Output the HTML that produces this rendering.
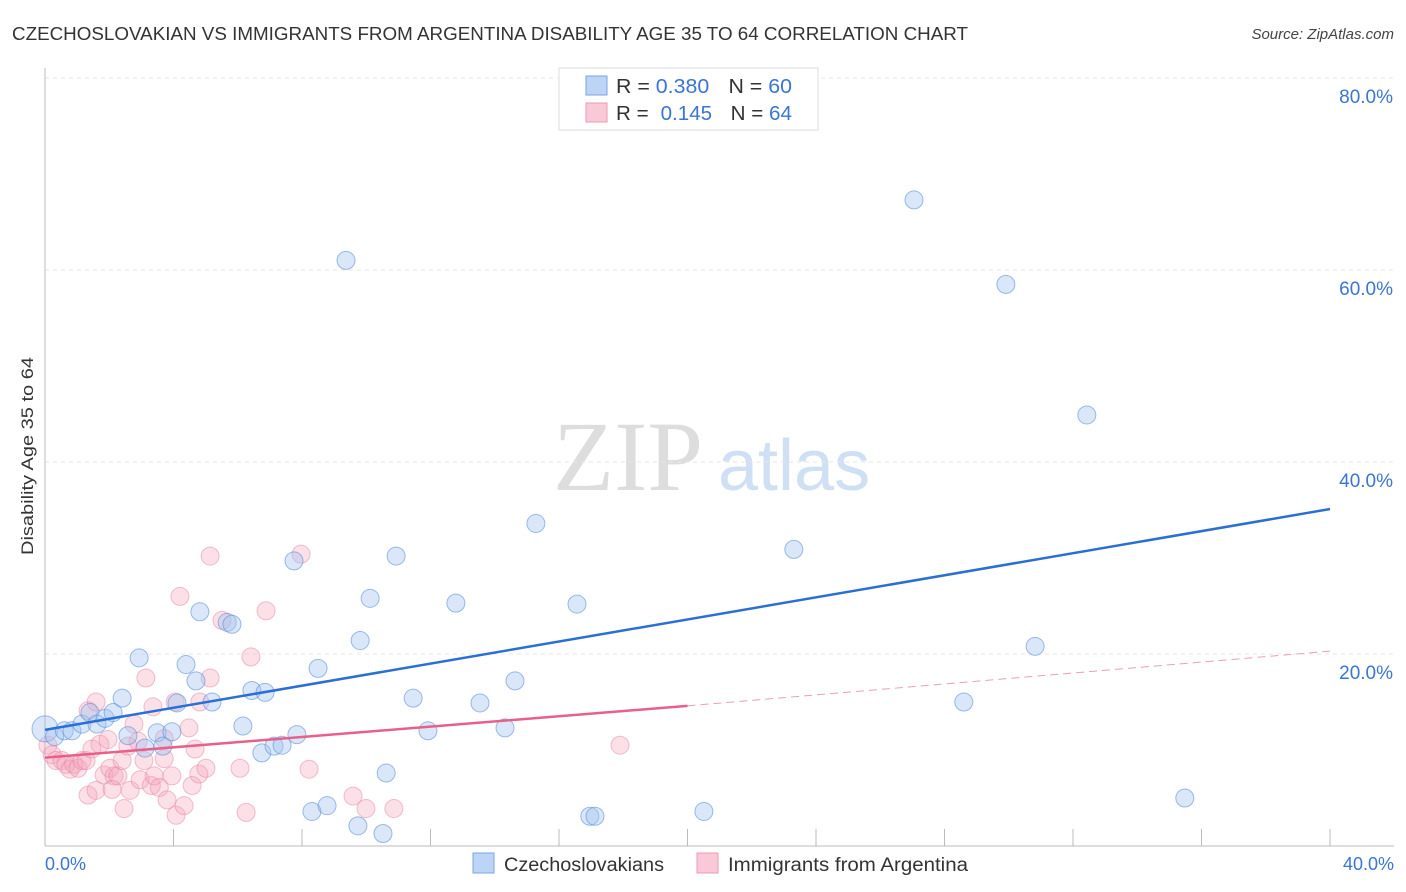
<!DOCTYPE html>
<html><head><meta charset="utf-8">
<style>
body{margin:0;background:#fff;font-family:"Liberation Sans",sans-serif;}
svg{display:block}
</style></head>
<body>
<svg id="chart" width="1406" height="892">
<text x="12" y="40" font-size="18" fill="#333" textLength="956" lengthAdjust="spacingAndGlyphs">CZECHOSLOVAKIAN VS IMMIGRANTS FROM ARGENTINA DISABILITY AGE 35 TO 64 CORRELATION CHART</text>
<text x="1394" y="39" font-size="15" fill="#444" font-style="italic" text-anchor="end">Source: ZipAtlas.com</text>
<text x="553" y="490" font-size="100" fill="#ddd" font-family="Liberation Serif,serif">ZIP</text>
<text x="718" y="490" font-size="72" fill="#cfe0f5">atlas</text>
<g id="grid"></g>
<line x1="45" y1="68" x2="45" y2="846" stroke="#bbb"/>
<line x1="45" y1="846" x2="1394" y2="846" stroke="#bbb"/>
<text transform="translate(33,456) rotate(-90)" font-size="17" fill="#333" text-anchor="middle" textLength="198" lengthAdjust="spacingAndGlyphs">Disability Age 35 to 64</text>
<text x="45" y="870" font-size="18" fill="#3a75d6">0.0%</text>
<text x="1394" y="870" font-size="18" fill="#3a75d6" text-anchor="end">40.0%</text>
<g id="pts"></g>
<g id="trend"></g>
<g>
<rect x="559" y="68" width="259" height="62" fill="#fff" stroke="#ddd"/>
<rect x="586" y="76" width="21" height="19" fill="#bcd4f5" stroke="#7aa5e5"/>
<rect x="586" y="103" width="21" height="19" fill="#f9c9d8" stroke="#ec9ab4"/>
<text x="616" y="93" font-size="20" fill="#333" textLength="176" lengthAdjust="spacingAndGlyphs">R = <tspan fill="#3a75d6">0.380</tspan><tspan dx="18">N = </tspan><tspan fill="#3a75d6">60</tspan></text>
<text x="616" y="120" font-size="20" fill="#333" textLength="176" lengthAdjust="spacingAndGlyphs">R = <tspan fill="#3a75d6" dx="6">0.145</tspan><tspan dx="18">N = </tspan><tspan fill="#3a75d6">64</tspan></text>
</g>
<g>
<rect x="473" y="853" width="21" height="20" fill="#bcd4f5" stroke="#7aa5e5"/>
<text x="504" y="871" font-size="19" fill="#333" textLength="160" lengthAdjust="spacingAndGlyphs">Czechoslovakians</text>
<rect x="697" y="853" width="21" height="20" fill="#f9c9d8" stroke="#ec9ab4"/>
<text x="728" y="871" font-size="19" fill="#333" textLength="240" lengthAdjust="spacingAndGlyphs">Immigrants from Argentina</text>
</g>
</svg>
<script>
const yTicks=[20,40,60,80];
const xTicks=[0,4,8,12,16,20,24,28,32,36,40];
const blueX=[0,0.3,0.6,0.84,1.15,1.4,1.62,1.87,2.12,2.4,2.58,2.93,3.11,3.49,3.67,3.95,4.11,4.39,4.7,4.82,5.2,5.67,5.82,6.16,6.44,6.75,6.85,7.13,7.38,7.75,7.84,8.31,8.5,8.78,9.37,9.74,9.81,10.12,10.52,10.62,10.93,11.46,11.92,12.79,13.54,14.32,14.63,15.28,16.56,16.96,17.12,20.51,23.31,27.05,28.6,29.91,30.82,32.43,35.48];
const blueY=[12.2,11.4,12,12,12.7,13.9,12.7,13.3,13.9,15.4,11.5,19.6,10.2,11.8,10.4,11.9,14.9,18.9,17.2,24.4,15,23.3,23.1,12.5,16.2,9.7,16,10.4,10.5,29.7,11.6,3.6,18.5,4.2,61,2.1,21.4,25.8,1.3,7.6,30.2,15.4,12,25.3,14.9,12.3,17.2,33.6,25.2,3.1,3.1,3.6,30.9,67.3,15,58.5,20.8,44.9,5];
const pinkX=[0.09,0.22,0.34,0.53,0.65,0.78,0.9,1.03,1.15,1.28,1.34,1.46,1.59,1.71,1.84,1.96,2.02,2.15,2.27,2.4,2.46,2.58,2.65,2.77,2.9,2.96,3.08,3.14,3.31,3.4,3.56,3.71,3.8,3.95,4.08,4.2,4.33,4.48,4.58,4.67,4.79,4.82,5.01,5.14,5.14,5.51,6.07,6.26,6.41,6.88,7.97,8.22,9.59,9.99,10.86,17.9,1.34,3.36,4.05,3.71,2.09,1.59];
const pinkY=[10.5,9.5,8.9,8.9,8.5,8,8.5,8.1,8.9,8.9,5.3,10.1,5.8,10.6,7.4,11.1,8.1,7.3,7.3,8.9,3.9,10.4,5.8,12.7,10.9,6.9,8.9,17.5,6.3,7.3,6.1,9.1,4.8,7.3,3.2,26,4.2,12.3,6.3,10.1,7.5,15,8.1,30.2,17.5,23.5,8.1,3.5,19.7,24.5,30.4,8,5.2,3.9,3.9,10.5,14.1,14.5,15,11.2,5.9,15];
const blueTrend=[0,12.1,40,35.1];
const pinkSolid=[0,9.2,20,14.6];
const pinkDash=[20,14.6,40,20.3];
const X=v=>45+v/40*1285;
const Y=v=>846-v*9.6;
const NS="http://www.w3.org/2000/svg";
function mk(t,a,p){const e=document.createElementNS(NS,t);for(const k in a)e.setAttribute(k,a[k]);p.appendChild(e);return e;}
const grid=document.getElementById('grid');
yTicks.forEach(t=>{
 const l=mk('line',{x1:45,x2:1394,y1:Y(t),y2:Y(t),stroke:'#e6e6e6','stroke-dasharray':'4,4'},grid);
 
 
 const tx=mk('text',{x:1393,y:Y(t)+25,'font-size':19,fill:'#3a75d6','text-anchor':'end'},grid);
 tx.textContent=t.toFixed(1)+'%';
 
 
});
xTicks.forEach(t=>{
 const l=mk('line',{x1:X(t),x2:X(t),y1:829,y2:846,stroke:'#bbb'},grid);
 
 
});
const pts=document.getElementById('pts');
pinkX.forEach((x,i)=>{
 const c=mk('circle',{cx:X(x),cy:Y(pinkY[i]),r:9,fill:'rgba(244,165,190,0.35)',stroke:'rgba(232,130,160,0.5)','stroke-width':1},pts);
 
 
});
blueX.forEach((x,i)=>{
 const c=mk('circle',{cx:X(x),cy:Y(blueY[i]),r:i===0?13:9,fill:'rgba(160,195,240,0.4)',stroke:'rgba(80,135,215,0.55)','stroke-width':1},pts);
 
 
});
const tr=document.getElementById('trend');
let l=mk('line',{x1:X(blueTrend[0]),y1:Y(blueTrend[1]),x2:X(blueTrend[2]),y2:Y(blueTrend[3]),stroke:'#2a6fd6','stroke-width':2.5},tr);


l=mk('line',{x1:X(pinkSolid[0]),y1:Y(pinkSolid[1]),x2:X(pinkSolid[2]),y2:Y(pinkSolid[3]),stroke:'#e8608a','stroke-width':2.5},tr);


l=mk('line',{x1:X(pinkDash[0]),y1:Y(pinkDash[1]),x2:X(pinkDash[2]),y2:Y(pinkDash[3]),stroke:'#e8a0b8','stroke-width':1,'stroke-dasharray':'8,5'},tr);


</script>
</body></html>
